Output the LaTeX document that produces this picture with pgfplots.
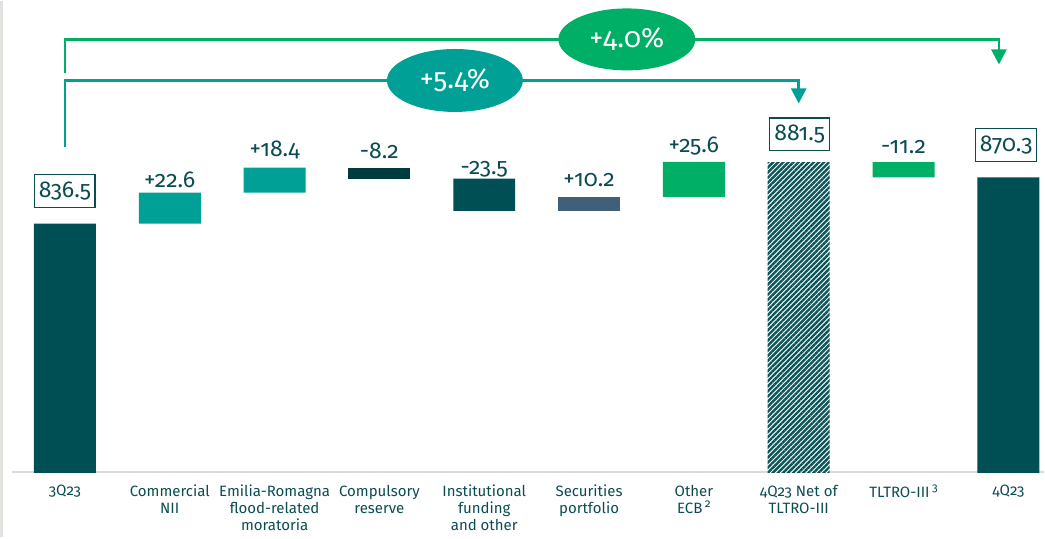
\documentclass[border=0pt]{standalone}
\usepackage{fontspec}
\setmainfont{Fira Sans}[Numbers=OldStyle]
\usepackage{pgfplots}
\usepackage{pgfplotstable}
\usetikzlibrary{arrows.meta,shapes.geometric,patterns.meta}
\pgfplotsset{compat=1.18}

\definecolor{dkteal}{HTML}{004F55}
\definecolor{ddteal}{HTML}{003B3D}
\definecolor{teal}{HTML}{00A096}
\definecolor{grn}{HTML}{00AF66}
\definecolor{slate}{HTML}{40607A}
\definecolor{hatch}{HTML}{0B5559}
\definecolor{txt}{HTML}{0B4C52}
\definecolor{axgray}{HTML}{DADADA}
\definecolor{edge}{HTML}{E2E2DE}

\newcommand{\fnote}[1]{\,\raisebox{0.7ex}{\fontsize{5.8}{6}\selectfont #1}}

% waterfall: invisible base, then one column per colour
\pgfplotstableread{
x base dk tl dd sl gr ht
0 0     836.5 0    0   0    0    0
1 836.5 0     22.6 0   0    0    0
2 859.1 0     18.4 0   0    0    0
3 869.3 0     0    8.2 0    0    0
4 845.8 23.5  0    0   0    0    0
5 845.8 0     0    0   10.2 0    0
6 856.0 0     0    0   0    25.6 0
7 0     0     0    0   0    0    881.5
8 870.3 0     0    0   0    11.2 0
9 0     870.3 0    0   0    0    0
}\wf

\begin{document}
\begin{tikzpicture}
\begin{axis}[
  scale only axis,
  width=516.4pt,height=235.5pt,
  xmin=-0.505,xmax=9.34,
  ymin=655,ymax=998.8,
  ybar stacked,bar width=31pt,
  clip mode=individual,
  axis x line*=bottom,axis y line=none,
  x axis line style={draw=axgray,line width=1pt},
  ytick=\empty,
  xtick={0,...,9},
  major tick length=0pt,
  xticklabels={3Q23,Commercial\\NII,Emilia-Romagna\\flood-related\\moratoria,Compulsory\\reserve,Institutional\\funding\\and other,Securities\\portfolio,Other\\ECB\fnote{2},4Q23 Net of\\TLTRO-III,TLTRO-III\fnote{3},4Q23},
  xticklabel style={font=\fontsize{7.5}{8.5}\selectfont,align=center,text=txt,anchor=north,yshift=-3pt},
]
\addplot[draw=none,fill=none] table[x=x,y=base]{\wf};
\addplot[draw=none,fill=dkteal] table[x=x,y=dk]{\wf};
\addplot[draw=none,fill=teal] table[x=x,y=tl]{\wf};
\addplot[draw=none,fill=ddteal] table[x=x,y=dd]{\wf};
\addplot[draw=none,fill=slate] table[x=x,y=sl]{\wf};
\addplot[draw=none,fill=grn] table[x=x,y=gr]{\wf};
\addplot[draw=none,fill=white,postaction={pattern={Lines[angle=45,distance=1.8pt,line width=1.2pt]},pattern color=hatch}] table[x=x,y=ht]{\wf};

% frame strip and page size
\draw[edge,line width=1.5pt] (rel axis cs:-0.0102,-0.138) -- (rel axis cs:-0.0102,1);
\path (rel axis cs:-0.01162,-0.138) rectangle (rel axis cs:1,1);

% change brackets
\draw[teal,line width=1.25pt,-{Triangle[width=7.5pt,length=7.5pt]}]
  (axis cs:0,892.2) -- (axis cs:0,941.1) -- (axis cs:7,941.1) -- (axis cs:7,924.3);
\draw[grn,line width=1.25pt,-{Triangle[width=7.5pt,length=7.5pt]}]
  (axis cs:0,946.2) -- (axis cs:0,971.1) -- (axis cs:8.91,971.1) -- (axis cs:8.91,952.8);
\coordinate (e1) at (axis cs:3.72,941.1);
\coordinate (e2) at (axis cs:5.36,971.1);

% value labels
\tikzset{lbl/.style={anchor=base,text=txt,font=\fontsize{11.5}{12}\selectfont,inner sep=0pt},
         box/.style={draw=txt,line width=0.6pt,text=txt,font=\fontsize{11.5}{12}\selectfont,minimum width=30pt,minimum height=16.5pt,inner sep=2pt}}
\node[box] at (axis cs:0,860.5) {836.5};
\node[lbl] at (axis cs:1,863.0) {+22.6};
\node[lbl] at (axis cs:2,885.7) {+18.4};
\node[lbl] at (axis cs:3,884.2) {-8.2};
\node[lbl] at (axis cs:4,872.5) {-23.5};
\node[lbl] at (axis cs:5,863.8) {+10.2};
\node[lbl] at (axis cs:6,888.6) {+25.6};
\node[box] at (axis cs:7.01,901.7) {881.5};
\node[lbl] at (axis cs:8,887.8) {-11.2};
\node[box] at (axis cs:8.98,894.1) {870.3};
\end{axis}
% growth badges on top of the bracket lines
\node[ellipse,fill=teal,minimum width=68pt,minimum height=31.5pt,inner sep=0pt,text=white,font=\fontsize{14}{14}\selectfont] at (e1) {+5.4\%};
\node[ellipse,fill=grn,minimum width=68.5pt,minimum height=31pt,inner sep=0pt,text=white,font=\fontsize{14}{14}\selectfont] at (e2) {+4.0\%};
\end{tikzpicture}
\end{document}
